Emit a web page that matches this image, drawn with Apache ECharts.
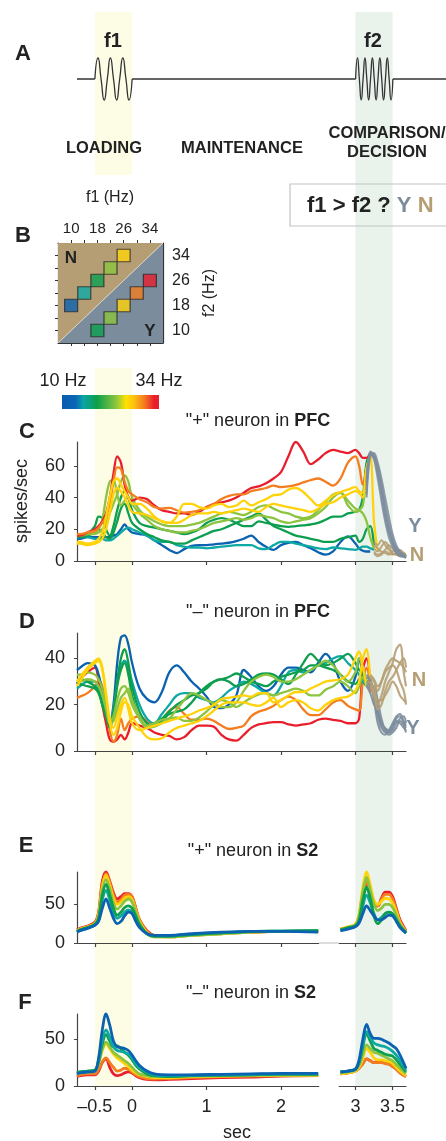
<!DOCTYPE html>
<html><head><meta charset="utf-8">
<script src="https://cdn.jsdelivr.net/npm/echarts@6/dist/echarts.min.js"></script>
<style>html,body{margin:0;padding:0;background:#fff}#c{width:446px;height:1141px}</style>
</head><body><div id="c"></div>
<script>
// ---------------- DATA ----------------
const X_TICKS = [-0.5, 0, 1, 2, 3, 3.5];
const C_YTICKS = [0, 20, 40, 60];
const D_YTICKS = [0, 20, 40];
const EF_YTICKS = [0, 50];
const B_LABELS = [10, 18, 26, 34];
const B_TICKS = [10, 14, 18, 22, 26, 30, 34];

// stimulus schematic (panel A): times and relative amplitude
const BASE_T = [-0.74, -0.5, -0.25, 0, 3.0, 3.25, 3.5, 4.213];
const BASE_V = [0, 0, null, 0, 0, null, 0, 0];
const F1_T = [-0.5, -0.458, -0.417, -0.375, -0.333, -0.292, -0.25, -0.208, -0.167, -0.125, -0.083, -0.042, 0];
const F1_V = [0, 1, 0, -1, 0, 1, 0, -1, 0, 1, 0, -1, 0];
const F2_T = [3.0, 3.025, 3.05, 3.075, 3.1, 3.125, 3.15, 3.175, 3.2, 3.225, 3.25, 3.275, 3.3, 3.325, 3.35, 3.375, 3.4, 3.425, 3.45, 3.475, 3.5];
const F2_V = [0, 1, 0, -1, 0, 1, 0, -1, 0, 1, 0, -1, 0, 1, 0, -1, 0, 1, 0, -1, 0];

// panel B: stimulus pairs
const PAIR_F1 = [10, 14, 18, 22, 26, 18, 22, 26, 30, 34];
const PAIR_F2 = [18, 22, 26, 30, 34, 10, 14, 18, 22, 26];
const TRI_N = [[6, 6], [6, 38], [38, 38]];
const TRI_Y = [[6, 6], [38, 6], [38, 38]];
const DIAG = [[6, 6], [38, 38]];

// panel C / D time grid (s)
const TC = [-0.74,-0.7,-0.6,-0.5,-0.45,-0.4,-0.35,-0.3,-0.25,-0.2,-0.15,-0.1,-0.05,0,0.1,0.2,0.3,0.4,0.5,0.6,0.7,0.8,0.9,1.0,1.1,1.2,1.3,1.4,1.5,1.6,1.7,1.8,1.9,2.0,2.1,2.2,2.3,2.4,2.5,2.6,2.7,2.8,2.9,3.0,3.05,3.1,3.15,3.2,3.25,3.3];

const C_RED = [16,16,18,20, 22,25,30,40,55,66,62,48,40,38, 40,39,35,32,31,30,30,29,31,34, 36,37,38,40,43,46,47,49,52,56, 66,75,69,61,64,68,70,69,68,70, 68,65,65,68,null,null];
const C_ORANGE = [17,17,18,19, 21,24,28,36,50,59,58,50,44,42, 39,37,34,33,33.5,32,30.5,31,32,34, 36,39,41,42,42,44,45,46,47.5,46.5, 47,48,49.5,51,52,50,47.5,52,62,66, 60,48,58,68,null,null];
const C_YELLOW_A = [12,12,11,12, 14,18,28,40,50,52,48,44,40,36, 36,33,28,25,24,28,36,36,34,33, 35,36,34,35,38,35,37,39,41.5,42, 45,46,43.5,39,35,38,41.5,43.5,45,46.5, 44,43,58,67,null,null];
const C_YELLOW_B = [11,11,10,11, 12,14,20,30,42,46,44,40,35,31, 30,29,27,25,24,24,26,29,30,30, 31,30,31,32,33,32,31,34,36,35, 34,33,32,31,33,36,37,40,42,44, 43,40,58,66,25,6];
const C_LGREEN_A = [16,16,17,17, 18,20,24,30,36,42,50,54,50,40, 32,28,25,23,22,22,22,23,24,26, 28,30,31,30,29,31,34,35,33,31, 30,28,27,28,32,37,42,43,35,31, 32,35,55,68,null,null];
const C_LGREEN_B = [17,17,17,18, 20,26,40,50,51,42,35,38,40,36, 30,26,22,20,19,18,18,19,20,22, 24,25,26,27,26,27,29,28,27,25, 24,25,26,27,30,34,40,43,38,33, 32,30,25,15,8,null];
const C_GREEN_A = [16,16,17,22, 28,27,20,16,22,32,40,44,40,32, 24,22,21,20,19,18,17,18,20,24, 26,27,26,24,22,22,25,24,23,22, 21.5,22,22.5,23,24,26,28,28,30,31, 32,40,62,68,null,null];
const C_GREEN_B = [15,15,16,18, 20,18,15,14,18,25,33,36,30,24, 20,17,15,13,12,11,11,13,15,17, 19,20,22,24,26,28,30,26,22,20, 18,16,15,14,13,12,12,14,15,16, 12,14,20,22,10,null];
const C_TEAL = [15,15,15,14, 14,14,13,13,14,16,18,20,21,20, 18,16,13,12,12,10,9,8.5,8.5,8, 8.5,9,9.5,10,10,10,8,7.5,10,12, 12,11,10,9,8,7.5,8.5,8,7.5,7, 8,9,9,8,7,null];
const C_BLUE = [14,14,15,15, 15,15,15,15,16,17,20,23,20,18, 17,16,13,10,7,5,7.5,9.5,10,10, 10.5,11,11.5,12.5,14,16,12,9,7,10, 11.5,12,10,8,5.5,4,6,12,15.5,11, 8,6.5,6,6,null,null];

const TCY = [3.15,3.2,3.25,3.3,3.35,3.4,3.45,3.5,3.55,3.6,3.65,3.68];
const C_Y1 = [50,68,66,58,46,32,20,12,7,4,3,2];
const C_Y2 = [45,68,64,52,38,25,15,9,5,3,2.5,2];
const C_Y3 = [40,66,68,62,52,40,28,17,10,6,4,3];
const C_Y4 = [42,67,65,55,42,28,18,11,6,4,3,2.5];
const C_Y5 = [48,69,67,60,48,35,23,14,8,5,3.5,3];
const TCN = [3.25,3.3,3.35,3.4,3.45,3.5,3.55,3.6,3.65,3.68];
const C_N1 = [8,6,9,12,9,5,4,3,3.5,3];
const C_N2 = [6,4,5,7,10,8,5,4,3,2];
const C_N3 = [10,8,6,5,4,6,8,6,4,3];
const C_N4 = [5,3,4,6,5,4,5,7,5,4];
const C_N5 = [12,10,13,10,7,5,4,4,5,3];

const D_BLUE = [35,36,38,37, 33,26,18,12,20,38,49,50,46,38, 27,22.5,21,25.5,34,37,34,30,27,23.5, 19,18.5,20,24,35,32,28,26,28,33, 36,36,35,34,38,42,38,30,26,32, 40,34,30,null,null,null];
const D_TEAL = [27,28,30,30, 27,22,17,12,18,30,37,39,36,30, 20,14,12,16,20,24,25,25,23,22, 21,23,26,28,30,29,27,25,24,28, 34,35,34,35,37,38,40,41,38,35, 33,30,28,null,null,null];
const D_GREEN_A = [31,31,30,28, 26,20,15,10,16,30,40,44,38,28, 17,12,11,13,16,17,18,21,25,28, 30,31,32,33.5,32,30,29,28,30,32, 33,34,35,37,37,36,35,33,30,29, 31,33,30,null,null,null];
const D_GREEN_B = [30,29,28,27, 25,20,15,11,17,28,35,38,33,24, 14,11,12,14,17,20,22,24,25,27, 30,31,30,28,29,31,33,33.5,33,31, 29,33,38,42,39,37,38,40,42,38, 35,34,30,null,null,null];
const D_LGREEN_A = [33,33,34,33, 31,27,20,13,15,22,27,28,25,20, 14,10,10.5,12,14,18,22,25,24,22, 20.5,19,19,21,26,30,32,33,32,30, 30,31,33,35,37,39,37,33,30,34, 40,36,30,null,null,null];
const D_LGREEN_B = [30,30,31,30, 28,24,18,12,13,18,23,25,27,22, 15,11,12,13.5,14,14.5,13,13,14.5,17, 20,22,21,19,21,23,24.5,25,24,25, 26,27,26,24,24,26.5,28,30,28,25, 28,32,28,null,null,null];
const D_YELLOW_A = [30,32,36,39, 40,36,25,12,7,10,17,21,20,15, 10,6,5,5.5,8,10,11,12,13,15, 17.5,20,21,21,21,20,19.5,21,23,19, 21,22,21,18.5,17.5,20,22,23,23.5,26, 30,40,44,30,null,null];
const D_YELLOW_B = [28,30,35,38, 39,35,24,14,10,15,20,23,18,12, 9,10,11,12,13,14,15,16,17.5,18.5, 20,22.5,23,23.5,24,23.5,25,25,21,22, 24,25.5,25.5,27,28.5,30,30.5,31,33,40, 43,36,28,null,null,null];
const D_ORANGE = [23,23.5,25,28, 30.5,28,20,9,4,7,14,9,12,14, 15,13,11.5,13.5,17.5,19,16,13.5,13.5,14, 13,11,9.5,10,11,15,17,18,19.5,22, 23.5,22,18,15.5,15.5,18,21,22,19.5,18, 17.5,30,36,25,null,null];
const D_RED = [29,31,34,36, 30,20,12,5,4,5,7,5,8,12, 11,10,8,7,6.5,5,6,9,11,11, 10.5,7,5,4.5,7,10,11.5,12,12.5,12.5, 11.5,11,11.5,12,13.5,14,13.5,13,12,12, 14,35,40,30,null,null];

const TDY = [3.15,3.2,3.25,3.3,3.35,3.4,3.45,3.5,3.55,3.6,3.65,3.68];
const D_Y1 = [30,28,24,15,10,9,8,10,14,15,12,10];
const D_Y2 = [32,30,22,12,8,7,9,12,15,16,13,11];
const D_Y3 = [28,25,20,17,12,10,9,11,13,12,10,9];
const D_Y4 = [33,31,26,18,11,8,8,9,12,14,15,12];
const D_Y5 = [29,27,28,22,14,9,7,8,10,13,11,8];
const TDN = [3.2,3.25,3.3,3.35,3.4,3.45,3.5,3.55,3.6,3.65,3.68];
const D_N1 = [30,25,20,24,30,34,38,44,46,34,28];
const D_N2 = [32,30,26,30,35,38,40,39,38,36,34];
const D_N3 = [28,24,18,20,26,30,32,35,38,40,36];
const D_N4 = [30,27,22,22,24,27,30,28,24,22,21];
const D_N5 = [33,31,28,30,34,36,37,35,30,26,20];

// panel E / F time grid (gap between 2.5 and 2.8 s)
const TE = [-0.74,-0.7,-0.6,-0.5,-0.45,-0.4,-0.35,-0.3,-0.25,-0.2,-0.15,-0.1,-0.05,0,0.05,0.1,0.2,0.3,0.5,0.8,1.2,1.6,2.0,2.5,2.65,2.8,2.9,3.0,3.05,3.1,3.15,3.2,3.25,3.3,3.35,3.4,3.45,3.5,3.55,3.6,3.68];
const E_RED = [17,19,22,27, 40,80,92,80,65,57,60,64,64,60, 45,30,16,10,9,11,13,14,15,15, null, 18,20,24, 35,65,75,60,48,48,58,66,66,60,45,30, 16];
const E_ORANGE = [16,18,21,26, 38,76,90,78,62,53,56,62,63,60, 45,30,15,9,8,10,12,14,15,15, null, 18,20,22, 32,62,80,65,50,48,56,63,63,57,43,28, 15];
const E_YELLOW = [16,18,21,25, 36,72,88,75,58,50,53,58,60,56, 42,28,13,8,8,10,12,14,15,15, null, 18,21,24, 38,72,92,75,55,50,54,58,57,52,40,26, 14];
const E_LGREEN = [15,17,20,25, 34,68,82,70,52,44,48,54,57,53, 40,26,12,8,8,10,12,14,15,15.5, null, 17,20,23, 35,66,85,68,50,42,45,50,50,46,36,24, 14];
const E_GREEN = [15,17,20,24, 32,62,76,62,45,36,40,46,48,45, 35,24,12,9,9,11,13,15,15.5,16, null, 17,20,22, 30,55,72,58,35,25,30,38,40,38,30,22, 13];
const E_TEAL = [15,16,19,23, 30,56,68,56,40,32,35,40,43,40, 32,22,12,9,9,11,13,15,15.5,16, null, 16,19,22, 28,48,62,52,38,30,33,38,40,37,30,22, 13];
const E_BLUE = [14,16,19,23, 28,45,57,45,32,25,28,35,40,38, 28,20,12,10,10,12,14,15,15,14, null, 16,18,21, 26,38,48,42,35,30,30,33,36,35,28,20, 13];

const F_BLUE = [13,14,15,16, 30,60,77,65,48,42,41,40,38,33, 27,22,16,13,12,12,12.5,13,13.5,13.5, null, 15,16,18, 28,50,66,56,51,51,50,48,46,43,40,33, 19];
const F_TEAL = [13,14,15,16, 28,50,60,52,42,38,37,36,34,30, 24,20,15,12,11,11.5,12,12.5,13,13, null, 15,16,18, 26,45,58,52,46,44,43,42,40,37,33,27, 17];
const F_GREEN = [14,15,16,17, 26,45,55,48,42,43,40,36,33,28, 22,18,13,11,10,11,11.5,12,12.5,12.5, null, 15,16,18, 25,42,56,48,40,38,36,34,33,32,28,23, 15];
const F_LGREEN = [14,15,16,17, 24,40,47,42,36,33,30,27,24,20, 16,13,11,10,10,10.5,11,11.5,12,12, null, 14,15,17, 22,34,44,40,36,35,33,31,29,27,23,19, 13];
const F_YELLOW = [13,14,15,16, 24,38,45,40,34,30,27,24,21,17, 14,12,10,9,9,10,10.5,11,11.5,11.5, null, 13,14,16, 20,30,40,36,30,28,28,27,26,24,20,16, 11];
const F_ORANGE = [11,12,13,13, 18,26,30,25,20,16,17,19,18,15, 12,10,8,7.5,8,9,10,10.5,11,11.5, null, 13,14,16, 19,24,29,27,25,25,25,24,23,21,18,14, 10];
const F_RED = [10,11,12,12, 16,25,29,20,13,11,12,14,15,14, 11,9,7,6.5,7,8,9,9.5,10.5,11, null, 13,14,16, 19,24,29,27,25,26,26,25,24,21,18,14, 10];

// ---------------- STYLE ----------------
const FONT = '"Liberation Sans", Arial, Helvetica, sans-serif';
const AX = '#444';
const COL = {10:'#0a62b0', 14:'#0fa9a4', 18:'#0d9f4f', 22:'#8cc43f', 26:'#ffd20a', 30:'#f47d20', 34:'#e91e2d'};
const YG = '#7b8c9d', NT = '#b69e74';
const YELLOW_BAND = '#fdfde6', GREEN_BAND = '#e9f3eb';

const chart = echarts.init(document.getElementById('c'));

function pts(T, V) { return T.map((t, i) => [t, (V[i] == null) ? '-' : V[i]]); }
function ln(ax, T, V, color, w, z, op) {
  return { type: 'line', xAxisIndex: ax, yAxisIndex: ax, data: pts(T, V), smooth: 0.35,
    symbol: 'none', silent: true, clip: false, z: z || 2,
    lineStyle: { color, width: w, opacity: op == null ? 1 : op } };
}
function fmtX(v) { return v < 0 ? '\u2013' + Math.abs(v) : String(v); }
function timeAxis(grid, labels) {
  return { type: 'value', gridIndex: grid, min: -0.74, max: 3.68,
    axisLine: { show: true, onZero: false, lineStyle: { color: AX, width: 1.2 } },
    axisTick: { show: true, length: 4, customValues: X_TICKS, lineStyle: { color: AX, width: 1.2 } },
    axisLabel: { show: labels, customValues: X_TICKS, formatter: fmtX, fontSize: 18, color: '#222', margin: 12, fontFamily: FONT },
    splitLine: { show: false } };
}
function valAxis(grid, max, ticks) {
  return { type: 'value', gridIndex: grid, min: 0, max: max, position: 'left',
    axisLine: { show: true, onZero: false, lineStyle: { color: AX, width: 1.2 } },
    axisTick: { show: true, length: 3, customValues: ticks, lineStyle: { color: AX, width: 1 } },
    axisLabel: { customValues: ticks, fontSize: 18, color: '#222', margin: 12, fontFamily: FONT },
    splitLine: { show: false } };
}
function T(id, x, y, text, size, bold, extra) {
  const el = { type: 'text', id, x, y, z: 50, silent: true,
    style: { text, fontSize: size, fontFamily: FONT, fontWeight: bold ? 'bold' : 'normal',
      fill: '#222', align: 'center', verticalAlign: 'middle' } };
  if (extra) { Object.assign(el, extra.el || {}); Object.assign(el.style, extra.style || {}); }
  return el;
}

const series = [];
// Panel A waveform
series.push(ln(0, BASE_T, BASE_V, '#333', 1.3));
series.push(Object.assign(ln(0, F1_T, F1_V, '#333', 1.3), { smooth: 0.6 }));
series.push(Object.assign(ln(0, F2_T, F2_V, '#333', 1.3), { smooth: 0.6 }));
series[0].smooth = false;

// Panel B
series.push({ type: 'custom', xAxisIndex: 1, yAxisIndex: 1, silent: true, z: 1, clip: false,
  data: [[0], [1]],
  renderItem: function (params, api) {
    const tri = params.dataIndex === 0 ? TRI_N : TRI_Y;
    return { type: 'polygon', shape: { points: tri.map(p => api.coord(p)) },
      style: { fill: params.dataIndex === 0 ? NT : YG } };
  } });
series.push({ type: 'line', xAxisIndex: 1, yAxisIndex: 1, data: DIAG, symbol: 'none', silent: true, z: 2,
  lineStyle: { color: '#ddd3bf', width: 1 } });
series.push({ type: 'scatter', xAxisIndex: 1, yAxisIndex: 1, silent: true, z: 3, symbol: 'rect', symbolSize: [13, 12.5],
  data: PAIR_F1.map((f, i) => ({ value: [f, PAIR_F2[i]], itemStyle: { color: COL[f] } })),
  itemStyle: { borderColor: '#2a2a2a', borderWidth: 1.2 } });

// Panel C (axis index 2)
const CW = 2.3;
[[C_BLUE,10],[C_TEAL,14],[C_GREEN_B,18],[C_GREEN_A,18],[C_LGREEN_B,22],[C_LGREEN_A,22],[C_RED,34],[C_ORANGE,30],[C_YELLOW_B,26],[C_YELLOW_A,26]]
  .forEach(([v, f]) => series.push(ln(2, TC, v, COL[f], CW, 3)));
[C_N1, C_N2, C_N3, C_N4, C_N5].forEach(v => series.push(ln(2, TCN, v, NT, 2, 4, 0.9)));
[C_Y1, C_Y2, C_Y3, C_Y4, C_Y5].forEach(v => series.push(ln(2, TCY, v, YG, 2, 5, 0.85)));

// Panel D (axis index 3)
[[D_RED,34],[D_ORANGE,30],[D_BLUE,10],[D_TEAL,14],[D_GREEN_A,18],[D_GREEN_B,18],[D_LGREEN_B,22],[D_LGREEN_A,22],[D_YELLOW_B,26],[D_YELLOW_A,26]]
  .forEach(([v, f]) => series.push(ln(3, TC, v, COL[f], CW, 3)));
[D_Y1, D_Y2, D_Y3, D_Y4, D_Y5].forEach(v => series.push(ln(3, TDY, v, YG, 2, 4, 0.9)));
[D_N1, D_N2, D_N3, D_N4, D_N5].forEach(v => series.push(ln(3, TDN, v, NT, 2.2, 5, 0.9)));

// Panel E (axis index 4)
[[E_RED,34],[E_ORANGE,30],[E_YELLOW,26],[E_LGREEN,22],[E_TEAL,14],[E_GREEN,18],[E_BLUE,10]]
  .forEach(([v, f]) => series.push(ln(4, TE, v, COL[f], 2.8, 3)));
// Panel F (axis index 5)
[[F_RED,34],[F_ORANGE,30],[F_YELLOW,26],[F_LGREEN,22],[F_GREEN,18],[F_TEAL,14],[F_BLUE,10]]
  .forEach(([v, f]) => series.push(ln(5, TE, v, COL[f], 2.8, 3)));

const bAxisBase = { type: 'value', gridIndex: 1, min: 6, max: 38, splitLine: { show: false },
  axisLine: { show: true, onZero: false, lineStyle: { color: '#333', width: 1.2 } } };

const option = {
  animation: false,
  textStyle: { fontFamily: FONT },
  grid: [
    { left: 77, top: 58, width: 369, height: 42 },
    { left: 58, top: 243, width: 105, height: 100 },
    { left: 77, top: 442, width: 329, height: 119 },
    { left: 77, top: 633, width: 329, height: 118 },
    { left: 77, top: 872, width: 329, height: 71 },
    { left: 77, top: 1014, width: 329, height: 72 }
  ],
  xAxis: [
    { type: 'value', gridIndex: 0, min: -0.74, max: 4.213, show: false },
    Object.assign({}, bAxisBase, { position: 'top',
      axisTick: { show: true, length: 3, customValues: B_TICKS, lineStyle: { color: '#333' } },
      axisLabel: { customValues: B_LABELS, fontSize: 15, color: '#222', margin: 7, fontFamily: FONT } }),
    timeAxis(2, false), timeAxis(3, false), timeAxis(4, false), timeAxis(5, true),
    Object.assign({}, bAxisBase, { position: 'bottom',
      axisTick: { show: true, length: 3, customValues: B_TICKS, lineStyle: { color: '#333' } },
      axisLabel: { show: false } })
  ],
  yAxis: [
    { type: 'value', gridIndex: 0, min: -1, max: 1, show: false },
    Object.assign({}, bAxisBase, { position: 'right', axisTick: { show: false },
      axisLabel: { customValues: B_LABELS, fontSize: 16, color: '#222', margin: 9, fontFamily: FONT } }),
    valAxis(2, 75, C_YTICKS), valAxis(3, 51, D_YTICKS), valAxis(4, 92, EF_YTICKS), valAxis(5, 77, EF_YTICKS),
    Object.assign({}, bAxisBase, { position: 'left',
      axisTick: { show: true, length: 3, customValues: B_TICKS, lineStyle: { color: '#333' } },
      axisLabel: { show: false } })
  ],
  series: series,
  graphic: { elements: [
    T('lA', 23, 54, 'A', 22, true), T('lB', 23, 236, 'B', 22, true), T('lC', 27, 432, 'C', 22, true),
    T('lD', 27, 622, 'D', 22, true), T('lE', 26, 846, 'E', 22, true), T('lF', 25, 1003, 'F', 22, true),
    T('f1', 113, 41, 'f1', 20, true), T('f2', 373, 41, 'f2', 20, true),
    T('load', 104, 148, 'LOADING', 16.5, true), T('main', 242, 148, 'MAINTENANCE', 16.5, true),
    T('comp', 387, 133, 'COMPARISON/', 16.5, true), T('dec', 387, 152, 'DECISION', 16.5, true),
    T('f1hz', 110, 198, 'f1 (Hz)', 16, false),
    T('f2hz', 210, 293, 'f2 (Hz)', 16, false, { el: { rotation: Math.PI / 2 } }),
    T('bN', 71, 258, 'N', 17, true), T('bY', 150, 331, 'Y', 17, true),
    { type: 'rect', id: 'box', z: 40, silent: true, shape: { x: 290, y: 184, width: 170, height: 42 },
      style: { fill: 'none', stroke: '#c4c4c4', lineWidth: 1.2 } },
    T('boxt', 307, 206, '{k|f1 > f2 ?} {y|Y} {n|N}', 22, true, { style: { align: 'left',
      rich: { k: { fontSize: 22, fontWeight: 'bold', fill: '#222', fontFamily: FONT },
              y: { fontSize: 22, fontWeight: 'bold', fill: YG, fontFamily: FONT },
              n: { fontSize: 22, fontWeight: 'bold', fill: NT, fontFamily: FONT } } } }),
    { type: 'rect', id: 'cbar', z: 40, silent: true, shape: { x: 62, y: 395, width: 97, height: 14 },
      style: { fill: new echarts.graphic.LinearGradient(0, 0, 1, 0, [
        { offset: 0, color: '#0a5cae' }, { offset: 0.14, color: '#0a66b6' }, { offset: 0.22, color: '#0aa5a6' },
        { offset: 0.36, color: '#0c9f4a' }, { offset: 0.56, color: '#8cc63f' }, { offset: 0.66, color: '#ffe100' },
        { offset: 0.74, color: '#fcc20f' }, { offset: 0.85, color: '#f47a20' }, { offset: 0.95, color: '#ea1d2d' },
        { offset: 1, color: '#ea1d2d' } ]) } },
    T('hz10', 63, 381, '10 Hz', 18, false), T('hz34', 159, 381, '34 Hz', 18, false),
    T('tC', 258, 421, '"+" neuron in {b|PFC}', 18, false, { style: { rich: { b: { fontWeight: 'bold', fontSize: 18, fontFamily: FONT, fill: '#222' } } } }),
    T('tD', 258, 612, '"\u2013" neuron in {b|PFC}', 18, false, { style: { rich: { b: { fontWeight: 'bold', fontSize: 18, fontFamily: FONT, fill: '#222' } } } }),
    T('tE', 253, 851, '"+" neuron in {b|S2}', 18, false, { style: { rich: { b: { fontWeight: 'bold', fontSize: 18, fontFamily: FONT, fill: '#222' } } } }),
    T('tF', 251, 993, '"\u2013" neuron in {b|S2}', 18, false, { style: { rich: { b: { fontWeight: 'bold', fontSize: 18, fontFamily: FONT, fill: '#222' } } } }),
    T('ylab', 22, 501, 'spikes/sec', 18, false, { el: { rotation: Math.PI / 2 } }),
    T('cY', 415, 526, 'Y', 20, true, { style: { fill: YG } }), T('cN', 417, 555, 'N', 20, true, { style: { fill: NT } }),
    T('dN', 419, 680, 'N', 20, true, { style: { fill: NT } }), T('dY', 413, 728, 'Y', 20, true, { style: { fill: YG } }),
    T('sec', 237, 1133, 'sec', 18, false)
  ] }
};
chart.setOption(option);

// shaded epochs positioned through the time scale
const px = t => chart.convertToPixel({ xAxisIndex: 2 }, t);
const x05 = px(-0.5), x0 = px(0), x3 = px(3), x35 = px(3.5);
const g25 = px(2.5), g28 = px(2.79);
chart.setOption({ graphic: { elements: [
  { type: 'rect', id: 'yb1', z: -10, silent: true, shape: { x: x05, y: 12, width: x0 - x05, height: 163 }, style: { fill: YELLOW_BAND } },
  { type: 'rect', id: 'yb2', z: -10, silent: true, shape: { x: x05, y: 368, width: x0 - x05, height: 719 }, style: { fill: YELLOW_BAND } },
  { type: 'rect', id: 'gb', z: -10, silent: true, shape: { x: x3, y: 12, width: x35 - x3, height: 1075 }, style: { fill: GREEN_BAND } },
  { type: 'rect', id: 'gapE', z: 60, silent: true, shape: { x: g25 + 1, y: 940.5, width: g28 - g25 - 2, height: 5 }, style: { fill: '#fff' } },
  { type: 'line', id: 'gapEl', z: 61, silent: true, shape: { x1: g25 + 1, y1: 943, x2: g28 - 1, y2: 943 }, style: { stroke: '#aaa', lineWidth: 0.8 } },
  { type: 'rect', id: 'gapF', z: 60, silent: true, shape: { x: g25 + 1, y: 1083.5, width: g28 - g25 - 2, height: 5 }, style: { fill: '#fff' } }
] } });
</script></body></html>
